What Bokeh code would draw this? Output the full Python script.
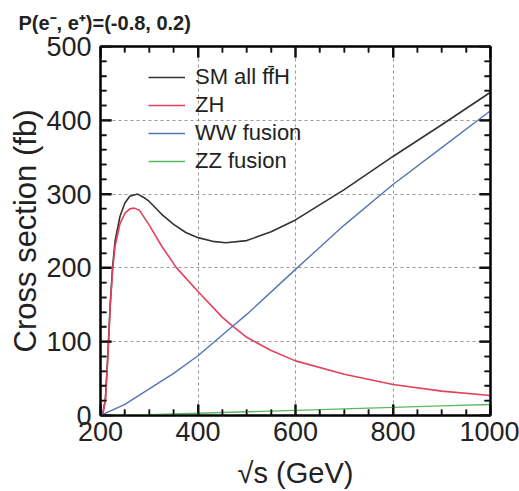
import math
from bokeh.plotting import figure
from bokeh.models import Range1d, Legend, LegendItem, FixedTicker, Title, LinearAxis
from bokeh.embed import file_html
from bokeh.resources import INLINE

# --- data ---
sqrt_s_sm = [200, 205, 210, 215, 220, 225, 230, 240, 250, 260, 276, 290, 300, 325, 350, 375, 400, 430, 457, 500, 550, 600, 700, 800, 900, 1000]
xs_sm     = [0,   4,   22,  82,  152, 203, 237, 270, 288, 297, 300, 295, 290, 273, 259, 248, 241, 236, 234, 237, 249, 265, 306, 351, 394, 438]

sqrt_s_zh = [200, 205, 210, 215, 220, 225, 230, 240, 250, 260, 269, 280, 300, 325, 356, 400, 450, 471, 500, 550, 600, 700, 800, 900, 1000]
xs_zh     = [0,   3,   20,  78,  148, 198, 230, 260, 274, 280, 281, 278, 258, 230, 200, 168, 133, 121, 106, 88,  74,  56,  42,  33,  27]

sqrt_s_ww = [200, 250, 300, 350, 400, 471, 500, 600, 700, 800, 900, 1000]
xs_ww     = [0,   15,  36,  57,  81,  121, 137, 198, 258, 313, 363, 413]

sqrt_s_zz = [200, 300, 400, 500, 600, 700, 800, 900, 1000]
xs_zz     = [0,   1,   3,   5,   7,   9,   11,  13,  15]

labels = ["SM all ff\u0304H", "ZH", "WW fusion", "ZZ fusion"]
x_ticks = [200, 400, 600, 800, 1000]
y_ticks = [0, 100, 200, 300, 400, 500]
x_minor = [v for v in range(200, 1001, 50) if v not in x_ticks]
y_minor = [v for v in range(0, 501, 20) if v not in y_ticks]

FONT = "Liberation Sans"
TXT = "#222222"
TICK_C = "#111111"
MAJ, MIN = 11, 6

p = figure(width=519, height=491, output_backend="svg", toolbar_location=None,
           x_range=Range1d(x_ticks[0], x_ticks[-1]), y_range=Range1d(y_ticks[0], y_ticks[-1]),
           min_border_left=100, min_border_right=29, min_border_top=43, min_border_bottom=76)

p.title = Title(text="P(e\u207b, e\u207a)=(-0.8, 0.2)", text_font=FONT, text_font_size="20px",
                text_font_style="bold", text_color=TXT, align="left", offset=-82, standoff=22,
                vertical_align="top")

p.outline_line_color = "black"
p.outline_line_width = 2

p.xgrid.ticker = FixedTicker(ticks=x_ticks)
p.ygrid.ticker = FixedTicker(ticks=y_ticks)
for g in (p.xgrid, p.ygrid):
    g.grid_line_color = "#999999"
    g.grid_line_dash = "3 3"
    g.grid_line_width = 1

def style_axis(ax, ticks, minor, show_labels):
    ax.ticker = FixedTicker(ticks=ticks, minor_ticks=minor)
    ax.major_tick_in = MAJ
    ax.major_tick_out = 0
    ax.minor_tick_in = MIN
    ax.minor_tick_out = 0
    ax.major_tick_line_color = TICK_C
    ax.minor_tick_line_color = TICK_C
    ax.major_tick_line_width = 2
    ax.minor_tick_line_width = 1.5
    ax.axis_line_color = "black"
    ax.axis_line_width = 2
    ax.major_label_text_font = FONT
    ax.major_label_text_font_size = "27px"
    ax.major_label_text_color = TXT
    if not show_labels:
        ax.major_label_overrides = {t: "" for t in ticks}
        ax.major_label_standoff = 0

xa = p.xaxis[0]
style_axis(xa, x_ticks, x_minor, True)
xa.axis_label = "\u221as (GeV)"
xa.axis_label_text_font = FONT
xa.axis_label_text_font_size = "29px"
xa.axis_label_text_font_style = "normal"
xa.axis_label_text_color = TXT
xa.major_label_standoff = 6
xa.axis_label_standoff = 13

ya = p.yaxis[0]
style_axis(ya, y_ticks, y_minor, True)
ya.axis_label = "Cross section (fb)"
ya.axis_label_text_font = FONT
ya.axis_label_text_font_size = "31px"
ya.axis_label_text_font_style = "normal"
ya.axis_label_text_color = TXT
ya.major_label_standoff = 9
ya.axis_label_standoff = 0

top_ax = LinearAxis()
style_axis(top_ax, x_ticks, x_minor, False)
p.add_layout(top_ax, "above")
right_ax = LinearAxis()
style_axis(right_ax, y_ticks, y_minor, False)
p.add_layout(right_ax, "right")

# the same inward ticks again as screen-length rays from the frame edges (coincide with the axis ticks)
n_x, n_xm, n_y, n_ym = len(x_ticks), len(x_minor), len(y_ticks), len(y_minor)
for xs_, n_, L, w in ((x_ticks, n_x, MAJ, 2), (x_minor, n_xm, MIN, 1.5)):
    p.ray(xs_, [y_ticks[0]] * n_, length=L, length_units="screen", angle=math.pi / 2,
          line_color=TICK_C, line_width=w)
    p.ray(xs_, [y_ticks[-1]] * n_, length=L, length_units="screen", angle=-math.pi / 2,
          line_color=TICK_C, line_width=w)
for ys_, n_, L, w in ((y_ticks, n_y, MAJ, 2), (y_minor, n_ym, MIN, 1.5)):
    p.ray([x_ticks[0]] * n_, ys_, length=L, length_units="screen", angle=0,
          line_color=TICK_C, line_width=w)
    p.ray([x_ticks[-1]] * n_, ys_, length=L, length_units="screen", angle=math.pi,
          line_color=TICK_C, line_width=w)

r_sm = p.line(sqrt_s_sm, xs_sm, line_color="#333333", line_width=1.6)
r_zh = p.line(sqrt_s_zh, xs_zh, line_color="#e5415c", line_width=1.6)
r_ww = p.line(sqrt_s_ww, xs_ww, line_color="#5575b5", line_width=1.4)
r_zz = p.line(sqrt_s_zz, xs_zz, line_color="#5cb85c", line_width=1.4)

legend = Legend(items=[LegendItem(label=l, renderers=[r]) for l, r in zip(labels, [r_sm, r_zh, r_ww, r_zz])],
                location=(48, 240))
legend.background_fill_alpha = 0
legend.border_line_alpha = 0
legend.label_text_font = FONT
legend.label_text_font_size = "22px"
legend.label_text_color = TXT
legend.glyph_width = 37
legend.glyph_height = 28
legend.label_height = 28
legend.spacing = 0
legend.padding = 0
legend.margin = 0
legend.label_standoff = 10
p.add_layout(legend, "center")

open("out.html", "w").write(file_html(p, INLINE))
